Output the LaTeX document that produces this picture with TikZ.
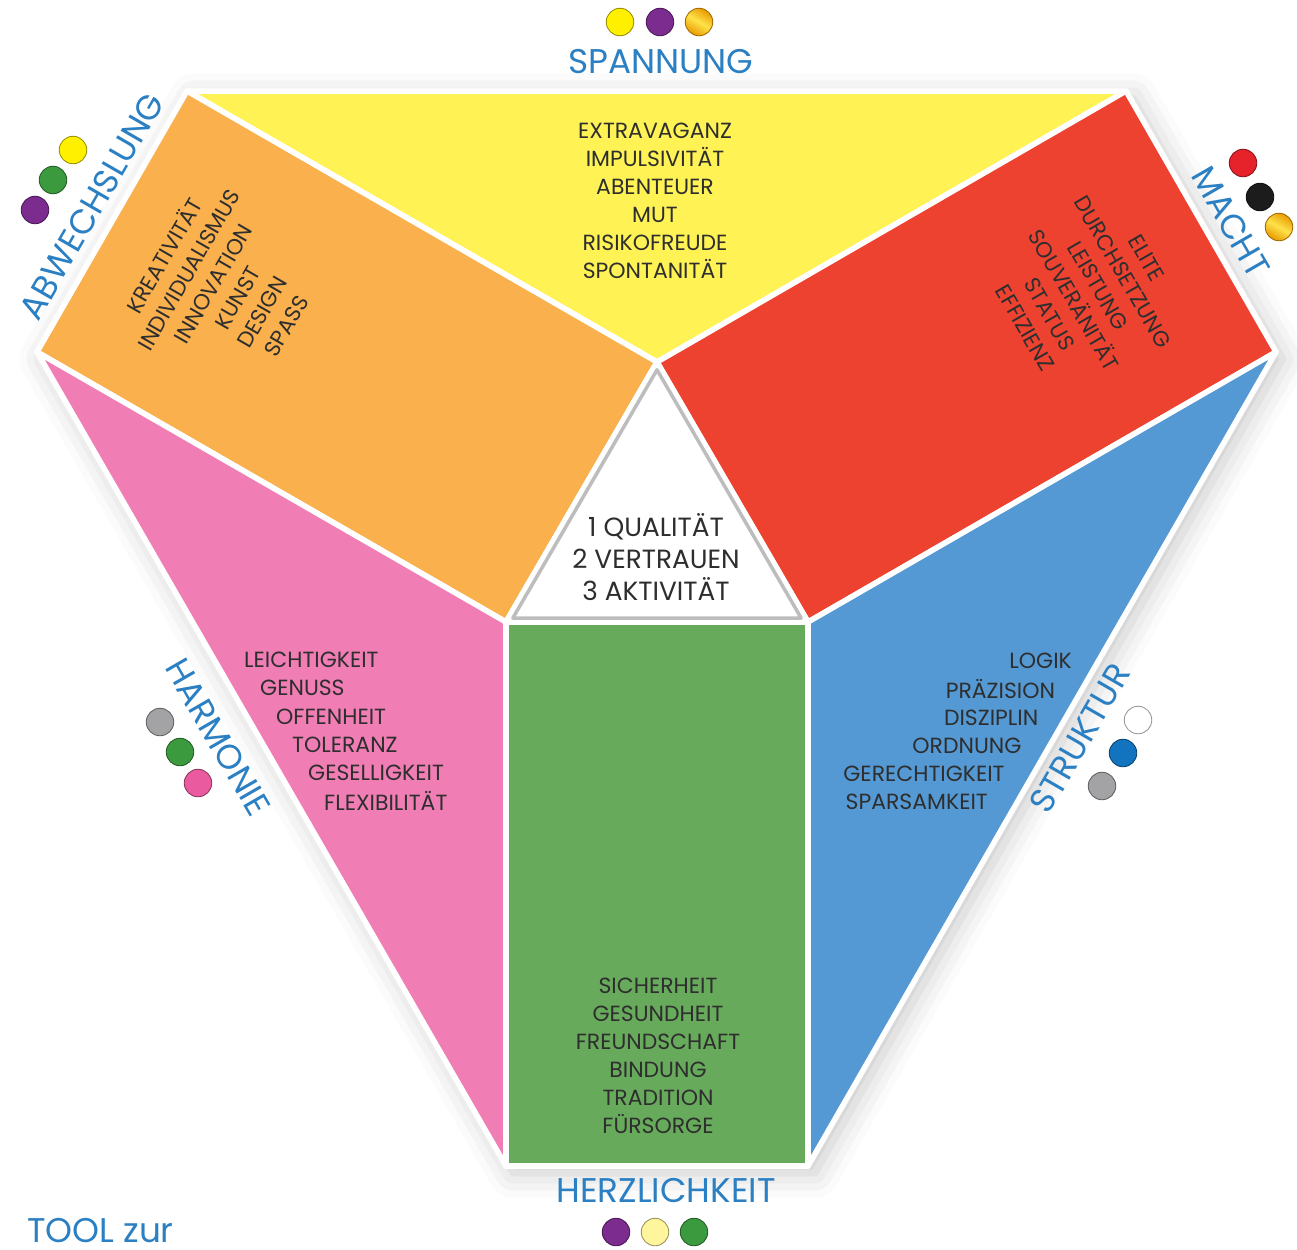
\documentclass[tikz,border=0pt]{standalone}
\usepackage{fontspec}
\setmainfont{Poppins}
\usetikzlibrary{calc, shadows.blur}
\definecolor{fieldyellow}{HTML}{FFF255}
\definecolor{fieldorange}{HTML}{F9B04D}
\definecolor{fieldred}{HTML}{EE4231}
\definecolor{fieldpink}{HTML}{F07DB4}
\definecolor{fieldgreen}{HTML}{67AA5B}
\definecolor{fieldblue}{HTML}{5499D4}
\definecolor{labelblue}{HTML}{2B7FC3}
\definecolor{textgray}{HTML}{2E2E2E}
\definecolor{rimgray}{HTML}{BDBDBD}
\definecolor{dotyellow}{HTML}{FFF000}
\definecolor{dotlight}{HTML}{FFF59C}
\definecolor{dotpurple}{HTML}{7C2B8F}
\definecolor{dotgreen}{HTML}{3C9A3E}
\definecolor{dotgray}{HTML}{A3A3A5}
\definecolor{dotpink}{HTML}{EA5A9E}
\definecolor{dotblue}{HTML}{1273BE}
\definecolor{dotred}{HTML}{E6222B}
\definecolor{dotblack}{HTML}{1C1C1C}
\definecolor{goldlow}{HTML}{E99A00}
\definecolor{goldhigh}{HTML}{FFE24A}

\tikzset{
  field/.style={fill=#1, draw=white, line width=0.11cm, line join=round},
  words/.style={textgray, align=center, font=\fontsize{12.5}{16}\selectfont},
  motive/.style={labelblue, font=\fontsize{19.5}{20}\selectfont},
  marble/.style={circle, fill=#1, draw=#1!60!black, line width=0.5pt, minimum size=0.55cm, inner sep=0pt},
  goldmarble/.style={circle, draw=goldlow!70!black, line width=0.5pt, minimum size=0.55cm, inner sep=0pt,
    left color=goldlow, right color=goldlow, middle color=goldhigh, shading angle=-30}
}

\begin{document}
\begin{tikzpicture}[x=0.02cm, y=-0.02cm]
  \useasboundingbox (0,0) rectangle (1297,1249);

  \coordinate (qa) at (657,362);
  \coordinate (qb) at (506,622);
  \coordinate (qc) at (808,622);
  \coordinate (oa) at (187,91);
  \coordinate (ob) at (37,352);
  \coordinate (ra) at (1126,91);
  \coordinate (rc) at (1276,352);
  \coordinate (gb) at (506,1166);
  \coordinate (gc) at (808,1166);
  \coordinate (qg) at (657,535.3);

  \path[fill=white, blur shadow={shadow xshift=4pt, shadow yshift=-4pt, shadow blur radius=14pt, shadow opacity=22}]
    (oa) -- (ra) -- (rc) -- (gc) -- (gb) -- (ob) -- cycle;

  \draw[field=fieldyellow] (oa) -- (ra) -- (qa) -- cycle;
  \draw[field=fieldorange] (qa) -- (qb) -- (ob) -- (oa) -- cycle;
  \draw[field=fieldred] (qa) -- (ra) -- (rc) -- (qc) -- cycle;
  \draw[field=fieldpink] (ob) -- (qb) -- (gb) -- cycle;
  \draw[field=fieldblue] (rc) -- (qc) -- (gc) -- cycle;
  \draw[field=fieldgreen] (qb) -- (qc) -- (gc) -- (gb) -- cycle;
  \draw[field=white] (qa) -- (qb) -- (qc) -- cycle;
  \draw[rimgray, line width=0.07cm, line join=round]
    ($(qg)!0.955!(qa)$) -- ($(qg)!0.955!(qb)$) -- ($(qg)!0.955!(qc)$) -- cycle;

  \node[words] (spannungwords) at (655,201) {EXTRAVAGANZ\\IMPULSIVITÄT\\ABENTEUER\\MUT\\RISIKOFREUDE\\SPONTANITÄT};
  \node[words, rotate=60] (abwechslungwords) at (224,290) {KREATIVITÄT\\INDIVIDUALISMUS\\INNOVATION\\KUNST\\DESIGN\\SPASS};
  \node[words, rotate=-60] (machtwords) at (1086,293) {ELITE\\DURCHSETZUNG\\LEISTUNG\\SOUVERÄNITÄT\\STATUS\\EFFIZIENZ};
  \node[words] (herzwords) at (658,1056) {SICHERHEIT\\GESUNDHEIT\\FREUNDSCHAFT\\BINDUNG\\TRADITION\\FÜRSORGE};
  \foreach \w [count=\i] in {LEICHTIGKEIT,GENUSS,OFFENHEIT,TOLERANZ,GESELLIGKEIT,FLEXIBILITÄT}
    \node[words, anchor=west] (harmonie\i) at ({238+16*(\i-1)},{660+28.2*(\i-1)}) {\w};
  \foreach \w [count=\i] in {LOGIK,PRÄZISION,DISZIPLIN,ORDNUNG,GERECHTIGKEIT,SPARSAMKEIT}
    \node[words, anchor=east] (struktur\i) at ({1078-16.8*(\i-1)},{661+28.2*(\i-1)}) {\w};

  \node[textgray, align=center, font=\fontsize{15}{18.4}\selectfont] (core) at (656,557) {1 QUALITÄT\\2 VERTRAUEN\\3 AKTIVITÄT};

  \node[motive] (spannung) at (661,62) {SPANNUNG};
  \node[motive] (herzlichkeit) at (666,1190) {HERZLICHKEIT};
  \node[motive, rotate=60] (abwechslung) at (92,206) {ABWECHSLUNG};
  \node[motive, rotate=-60] (macht) at (1231,222) {MACHT};
  \node[motive, rotate=-60] (harmonie) at (218,737) {HARMONIE};
  \node[motive, rotate=60] (struktur) at (1080,738) {STRUKTUR};
  \node[motive, anchor=base west, inner sep=1pt] (tool) at (25,1242) {TOOL zur};

  \node[marble=dotyellow] (sp1) at (620,22) {};
  \node[marble=dotpurple] (sp2) at (660,22) {};
  \node[goldmarble] (sp3) at (699,22) {};
  \node[marble=dotyellow] (ab1) at (73,150) {};
  \node[marble=dotgreen] (ab2) at (53,180) {};
  \node[marble=dotpurple] (ab3) at (35,210) {};
  \node[marble=dotred] (ma1) at (1243,163) {};
  \node[marble=dotblack] (ma2) at (1260,197) {};
  \node[goldmarble] (ma3) at (1279,227) {};
  \node[marble=dotgray] (ha1) at (160,722) {};
  \node[marble=dotgreen] (ha2) at (180,752) {};
  \node[marble=dotpink] (ha3) at (198,783) {};
  \node[marble=white] (st1) at (1138,720) {};
  \node[marble=dotblue] (st2) at (1123,753) {};
  \node[marble=dotgray] (st3) at (1102,786) {};
  \node[marble=dotpurple] (he1) at (616,1232) {};
  \node[marble=dotlight] (he2) at (655,1232) {};
  \node[marble=dotgreen] (he3) at (694,1232) {};
\end{tikzpicture}
\end{document}
